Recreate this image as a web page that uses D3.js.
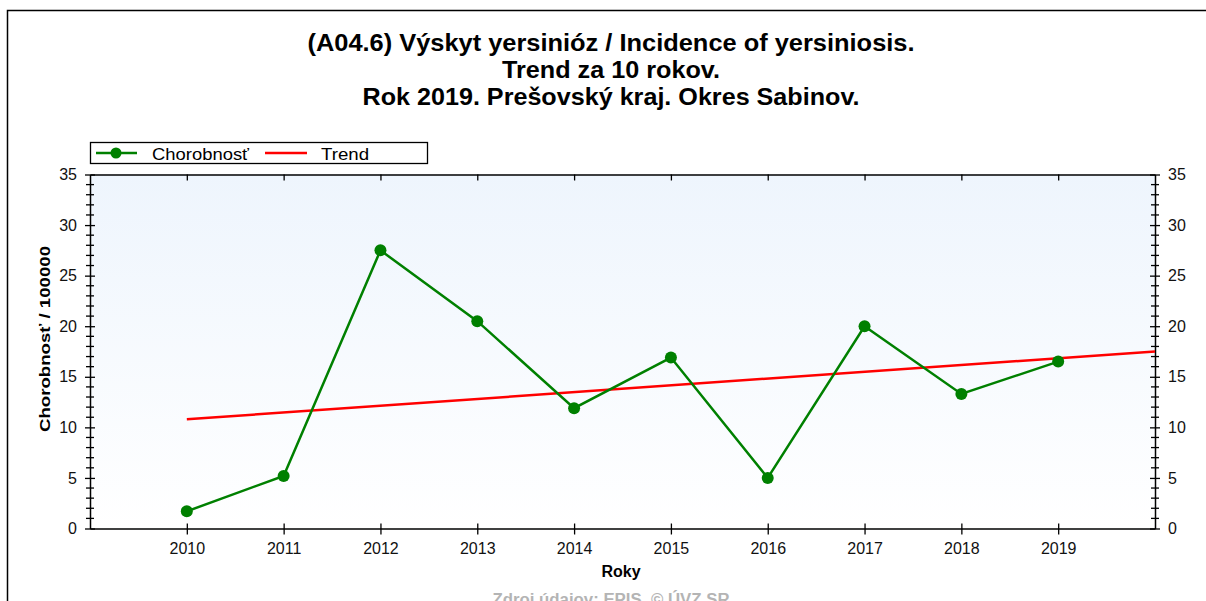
<!DOCTYPE html>
<html>
<head>
<meta charset="utf-8">
<script src="https://cdn.jsdelivr.net/npm/d3@7"></script>
<style>
  body { margin: 0; background: #fff; }
  text { font-family: "Liberation Sans", Arial, sans-serif; }
</style>
</head>
<body>
<div id="chart"></div>
<script>
// chart data
const years = [2010, 2011, 2012, 2013, 2014, 2015, 2016, 2017, 2018, 2019];
const incidence = [1.7, 5.2, 27.5, 20.5, 11.9, 16.9, 5.0, 20.0, 13.3, 16.5];
const trendYears = [2010, 2020];
const trendValues = [10.8, 17.5];
const yTicks = [0, 5, 10, 15, 20, 25, 30, 35];
const titleLines = [
  '(A04.6) Výskyt yersinióz / Incidence of yersiniosis.',
  'Trend za 10 rokov.',
  'Rok 2019. Prešovský kraj. Okres Sabinov.'
];

const width = 1206, height = 601;
const plot = { left: 90, right: 1155, top: 174.5, bottom: 528.5 };

const svg = d3.select('#chart').append('svg')
  .attr('width', width)
  .attr('height', height);

// gradient for the plot background
const grad = svg.append('defs').append('linearGradient')
  .attr('id', 'bg').attr('x1', 0).attr('y1', 0).attr('x2', 0).attr('y2', 1);
grad.append('stop').attr('offset', '0%').attr('stop-color', '#eef5fd');
grad.append('stop').attr('offset', '100%').attr('stop-color', '#ffffff');

// outer frame
svg.append('rect')
  .attr('x', 7.5).attr('y', 10.5)
  .attr('width', 1220).attr('height', 620)
  .attr('fill', 'none').attr('stroke', '#000').attr('stroke-width', 1.5);

// title (widths matched to the original rendering)
const titleWidths = [607, 218, 497];
svg.append('g').selectAll('text')
  .data(titleLines)
  .enter()
  .append('text')
  .attr('x', 611)
  .attr('y', (d, i) => 51 + i * 27)
  .attr('text-anchor', 'middle')
  .attr('textLength', (d, i) => titleWidths[i])
  .attr('lengthAdjust', 'spacingAndGlyphs')
  .style('font-size', '23px')
  .style('font-weight', 'bold')
  .text(d => d);

const x = d3.scaleLinear().domain([2009, 2020]).range([plot.left, plot.right]);
const y = d3.scaleLinear().domain([0, 35]).range([plot.bottom, plot.top]);

svg.append('rect')
  .attr('x', plot.left).attr('y', plot.top)
  .attr('width', plot.right - plot.left).attr('height', plot.bottom - plot.top)
  .attr('fill', 'url(#bg)');

const minorTicks = d3.range(0, 36, 1).filter(v => v % 5 !== 0);

function styleAxis(g) {
  g.selectAll('path').attr('stroke', '#000').attr('stroke-width', 1.5);
  g.selectAll('line').attr('stroke', '#000').attr('stroke-width', 1.3);
  g.selectAll('text').style('font-size', '16px').attr('fill', '#111');
}

// left axis
const leftAxis = svg.append('g')
  .attr('transform', `translate(${plot.left},0)`)
  .call(d3.axisLeft(y).tickValues(yTicks).tickSize(5).tickSizeOuter(0).tickPadding(8));
leftAxis.call(styleAxis);
leftAxis.selectAll('.tick line').attr('x2', -5).attr('x1', 5);
leftAxis.selectAll('.minor').data(minorTicks).enter().append('line')
  .attr('x1', -4).attr('x2', 4)
  .attr('y1', d => y(d)).attr('y2', d => y(d))
  .attr('stroke', '#000').attr('stroke-width', 1.3);

// right axis
const rightAxis = svg.append('g')
  .attr('transform', `translate(${plot.right},0)`)
  .call(d3.axisRight(y).tickValues(yTicks).tickSize(5).tickSizeOuter(0).tickPadding(8));
rightAxis.call(styleAxis);
rightAxis.selectAll('.tick line').attr('x1', -5).attr('x2', 5);
rightAxis.selectAll('.minor').data(minorTicks).enter().append('line')
  .attr('x1', -4).attr('x2', 4)
  .attr('y1', d => y(d)).attr('y2', d => y(d))
  .attr('stroke', '#000').attr('stroke-width', 1.3);

// bottom axis
const bottomAxis = svg.append('g')
  .attr('transform', `translate(0,${plot.bottom})`)
  .call(d3.axisBottom(x).tickValues(years).tickFormat(d3.format('d')).tickSize(6).tickSizeOuter(0).tickPadding(8));
bottomAxis.call(styleAxis);
bottomAxis.selectAll('.tick line').attr('y1', -5).attr('y2', 6);

// top axis (ticks only)
const topAxis = svg.append('g')
  .attr('transform', `translate(0,${plot.top})`)
  .call(d3.axisTop(x).tickValues(years).tickFormat('').tickSize(0).tickSizeOuter(0));
topAxis.call(styleAxis);
topAxis.selectAll('.tick line').attr('y1', 0).attr('y2', 6);

// axis titles
svg.append('text')
  .attr('transform', 'translate(50,339) rotate(-90)')
  .attr('text-anchor', 'middle')
  .attr('textLength', 186)
  .attr('lengthAdjust', 'spacingAndGlyphs')
  .style('font-size', '15px')
  .style('font-weight', 'bold')
  .text('Chorobnosť / 100000');

svg.append('text')
  .attr('x', 621).attr('y', 577)
  .attr('text-anchor', 'middle')
  .style('font-size', '16px')
  .style('font-weight', 'bold')
  .text('Roky');

svg.append('text')
  .attr('x', 611).attr('y', 605)
  .attr('text-anchor', 'middle')
  .attr('textLength', 237)
  .attr('lengthAdjust', 'spacingAndGlyphs')
  .style('font-size', '16px')
  .style('font-weight', 'bold')
  .attr('fill', '#b4b4b4')
  .text('Zdroj údajov: EPIS, © ÚVZ SR');

// trend line
const trend = trendYears.map((yr, i) => ({ year: yr, value: trendValues[i] }));
svg.append('path')
  .datum(trend)
  .attr('fill', 'none')
  .attr('stroke', '#ff0000')
  .attr('stroke-width', 2.5)
  .attr('d', d3.line().x(d => x(d.year)).y(d => y(d.value)));

// incidence line
const series = years.map((yr, i) => ({ year: yr, value: incidence[i] }));
svg.append('path')
  .datum(series)
  .attr('fill', 'none')
  .attr('stroke', '#008000')
  .attr('stroke-width', 2.5)
  .attr('d', d3.line().x(d => x(d.year)).y(d => y(d.value)));

svg.selectAll('circle.pt')
  .data(series)
  .enter()
  .append('circle')
  .attr('class', 'pt')
  .attr('cx', d => x(d.year))
  .attr('cy', d => y(d.value))
  .attr('r', 6)
  .style('fill', '#008000');

// legend
const legend = svg.append('g');
legend.append('rect')
  .attr('x', 90.5).attr('y', 142.5).attr('width', 337).attr('height', 21)
  .attr('fill', '#fff').attr('stroke', '#000').attr('stroke-width', 1.3);
legend.append('line')
  .attr('x1', 96).attr('x2', 137).attr('y1', 153).attr('y2', 153)
  .attr('stroke', '#008000').attr('stroke-width', 2.5);
legend.append('circle')
  .attr('cx', 116).attr('cy', 153).attr('r', 5.5).style('fill', '#008000');
legend.append('text')
  .attr('x', 152).attr('y', 159.5)
  .attr('textLength', 97)
  .attr('lengthAdjust', 'spacingAndGlyphs')
  .style('font-size', '17px')
  .text('Chorobnosť');
legend.append('line')
  .attr('x1', 265).attr('x2', 307).attr('y1', 153).attr('y2', 153)
  .attr('stroke', '#ff0000').attr('stroke-width', 2.5);
legend.append('text')
  .attr('x', 321).attr('y', 159.5)
  .attr('textLength', 48)
  .attr('lengthAdjust', 'spacingAndGlyphs')
  .style('font-size', '17px')
  .text('Trend');
</script>
</body>
</html>
